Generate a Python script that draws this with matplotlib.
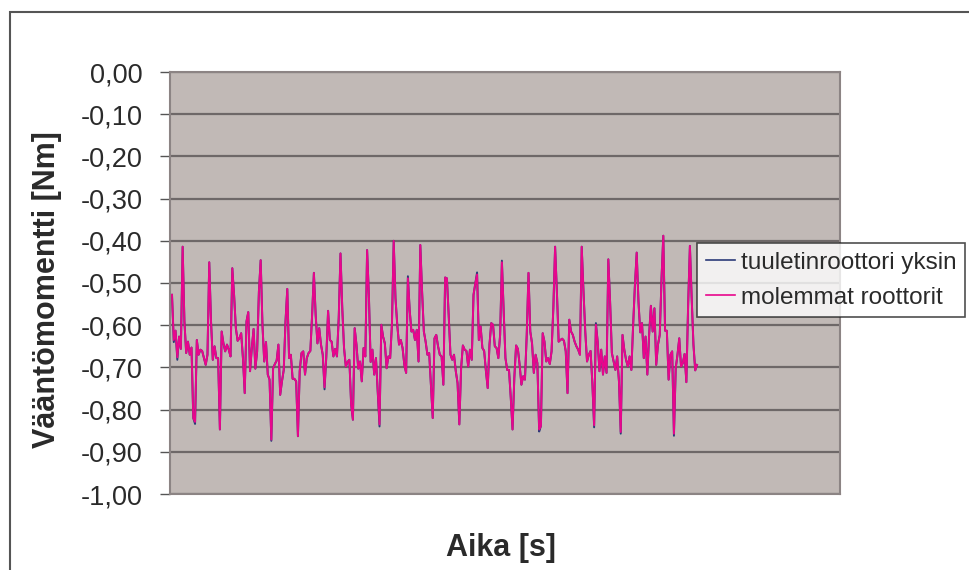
import numpy as np
import matplotlib
matplotlib.use('Agg')
import matplotlib.pyplot as plt
from matplotlib.ticker import FuncFormatter

# torque readings (Nm), one value per sample
molemmat = [-0.528, -0.635, -0.613, -0.676, -0.627, -0.656, -0.414, -0.591, -0.666, -0.639,
            -0.670, -0.653, -0.820, -0.829, -0.635, -0.670, -0.658, -0.661, -0.678, -0.694,
            -0.670, -0.451, -0.591, -0.682, -0.650, -0.678, -0.678, -0.847, -0.615, -0.643,
            -0.662,
            -0.646, -0.658, -0.674, -0.465, -0.528, -0.607, -0.637, -0.631, -0.619, -0.678,
            -0.761, -0.591, -0.569, -0.709, -0.654, -0.609, -0.703, -0.662, -0.520, -0.446,
            -0.599, -0.686, -0.640, -0.717, -0.729, -0.871, -0.702, -0.692, -0.684, -0.646,
            -0.765, -0.733, -0.706, -0.591, -0.514, -0.678, -0.670, -0.727,
            -0.727, -0.733, -0.863, -0.709, -0.666, -0.662, -0.717, -0.678, -0.666, -0.661,
            -0.576, -0.476, -0.576, -0.643, -0.607, -0.646, -0.670, -0.747, -0.674, -0.566,
            -0.635, -0.639, -0.674, -0.656, -0.674, -0.583, -0.430, -0.560, -0.654, -0.698,
            -0.687, -0.682, -0.788, -0.824, -0.607, -0.646, -0.703, -0.686,
            -0.733, -0.654, -0.674, -0.422, -0.528, -0.687, -0.658, -0.717, -0.678, -0.757,
            -0.835, -0.599, -0.627, -0.643, -0.702, -0.674, -0.678, -0.599, -0.400, -0.536,
            -0.599, -0.646, -0.635, -0.654, -0.694, -0.713, -0.489, -0.564, -0.615, -0.611,
            -0.635, -0.611, -0.686, -0.410, -0.520, -0.615, -0.639, -0.670,
            -0.666, -0.741, -0.820, -0.631, -0.623, -0.650, -0.670, -0.674, -0.741, -0.487,
            -0.489, -0.576, -0.670, -0.682, -0.670, -0.709, -0.737, -0.835, -0.702, -0.648,
            -0.658, -0.661, -0.698, -0.658, -0.682, -0.528, -0.501, -0.480, -0.635, -0.603,
            -0.654, -0.661, -0.709, -0.749, -0.646, -0.595, -0.599, -0.650,
            -0.654, -0.678, -0.623, -0.451, -0.568, -0.678, -0.706, -0.706, -0.772, -0.847,
            -0.725, -0.648, -0.656, -0.694, -0.741, -0.721, -0.729, -0.623, -0.476, -0.615,
            -0.643, -0.713, -0.670, -0.690, -0.847, -0.839, -0.619, -0.639, -0.686, -0.678,
            -0.692, -0.662, -0.560, -0.414,
            -0.520, -0.639, -0.635, -0.632, -0.637, -0.662, -0.761, -0.587, -0.615, -0.623,
            -0.639, -0.650, -0.658, -0.670, -0.414, -0.520, -0.615, -0.686, -0.670, -0.661,
            -0.737, -0.837, -0.599, -0.639, -0.709, -0.658, -0.717, -0.674, -0.713, -0.444,
            -0.544, -0.666, -0.686, -0.706, -0.674, -0.733, -0.853,
            -0.623, -0.658, -0.682, -0.698, -0.674, -0.706, -0.599, -0.505, -0.428, -0.544,
            -0.617, -0.595, -0.678, -0.627, -0.717, -0.623, -0.554, -0.615, -0.560, -0.694,
            -0.646, -0.623, -0.489, -0.388, -0.613, -0.613, -0.729, -0.670, -0.662, -0.857,
            -0.702, -0.670, -0.631, -0.698, -0.690, -0.668, -0.735, -0.552, -0.412, -0.536,
            -0.646, -0.707, -0.694]

# the fan rotor alone follows the same curve; these samples differ slightly
tuuletin_diff = {1: -0.640, 3: -0.682, 13: -0.834, 56: -0.874, 86: -0.752, 117: -0.840,
                 133: -0.484, 172: -0.475, 186: -0.447, 207: -0.852, 238: -0.842,
                 239: -0.595, 253: -0.857, 283: -0.862}
tuuletin = list(molemmat)
for k, v in tuuletin_diff.items():
    tuuletin[k] = v

labels = ['tuuletinroottori yksin', 'molemmat roottorit']
yticks = [0.0, -0.1, -0.2, -0.3, -0.4, -0.5, -0.6, -0.7, -0.8, -0.9, -1.0]

plt.rcParams['font.family'] = ['Liberation Sans', 'DejaVu Sans']

W, H = 969, 570
fig = plt.figure(figsize=(W / 100, H / 100), dpi=100)

# outer chart border (right/bottom run off the picture)
fig.patches.append(plt.Rectangle((10 / W, -0.1), 1.2, 1 - 12 / H + 0.1, transform=fig.transFigure,
                                 fill=False, edgecolor='#555555', linewidth=1.5))

ax = fig.add_axes([170 / W, (H - 494) / H, (840 - 170) / W, (494 - 72) / H])
ax.set_facecolor('#C1B9B6')

x = np.arange(len(molemmat))
n = len(molemmat) - 1
ax.plot(x, tuuletin, color='#2B3A78', linewidth=1.4, label=labels[0])
ax.plot(x, molemmat, color='#E8068C', linewidth=1.4, label=labels[1])

# data starts at pixel 172 and ends at about 697 inside the 170..840 plot area
scale = n / (697 - 172)
ax.set_xlim(-2 * scale, n + (840 - 697) * scale)
ax.set_ylim(-1.0, 0.0)
ax.set_yticks(yticks)
ax.yaxis.set_major_formatter(FuncFormatter(lambda v, p: ('%.2f' % v).replace('.', ',')))
ax.set_xticks([])
ax.grid(axis='y', color='#6E6868', linewidth=1.6)
ax.tick_params(axis='y', length=7.5, width=1, color='#555555', labelsize=19.5,
               labelcolor='#2A2A2A', pad=12)
for s in ax.spines.values():
    s.set_color('#8C8484')
    s.set_linewidth(1.5)

fig.text(47 / W, 1 - 290 / H, 'Vääntömomentti [Nm]', rotation=90, ha='center', va='center',
         fontsize=22, fontweight='bold', color='#2A2A2A')
fig.text(501 / W, 1 - 548 / H, 'Aika [s]', ha='center', va='center',
         fontsize=22, fontweight='bold', color='#2A2A2A')

leg = fig.legend(loc='upper left', bbox_to_anchor=(697 / W, 1 - 243 / H), fontsize=17.5,
                 frameon=True, fancybox=False, handlelength=1.2, handletextpad=0.25,
                 borderpad=0.35, labelspacing=0.55, borderaxespad=0)
leg.get_frame().set_edgecolor('#222222')
leg.get_frame().set_linewidth(1.2)
for t in leg.get_texts():
    t.set_color('#2A2A2A')
for l in leg.get_lines():
    l.set_linewidth(1.2)

fig.savefig('out.png', dpi=100)
